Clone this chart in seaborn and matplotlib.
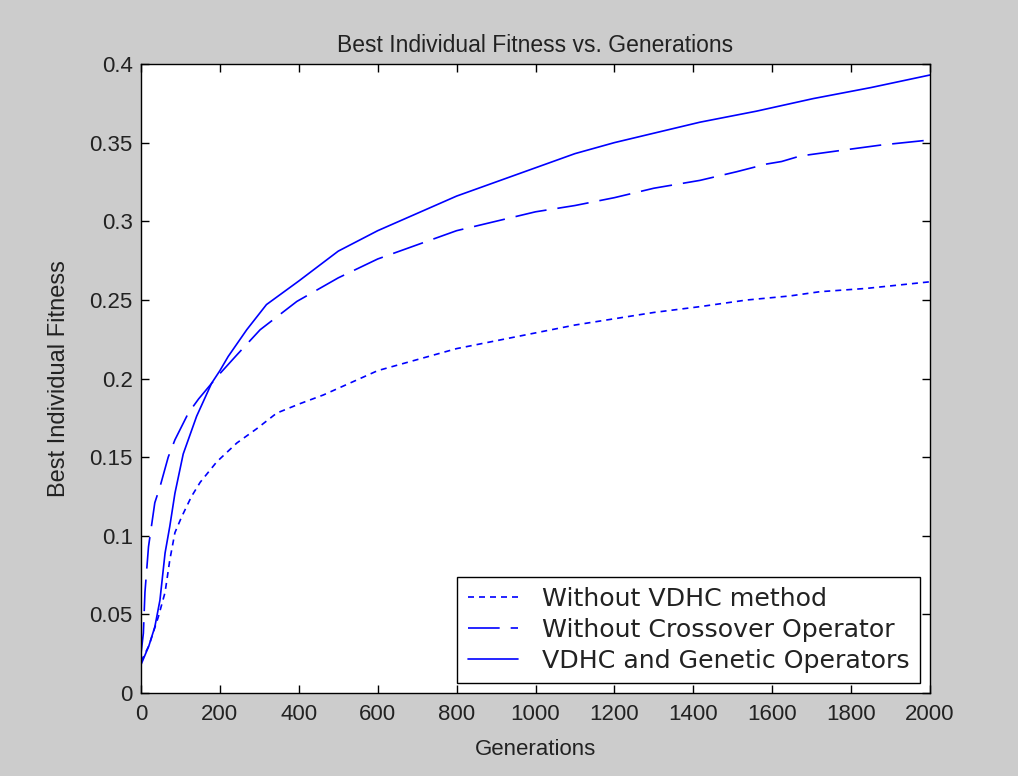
import matplotlib
matplotlib.use("Agg")
import matplotlib.pyplot as plt
import seaborn as sns
import pandas as pd
from matplotlib.lines import Line2D

# ---- data ----
gen_vdhc_ga = [0, 20, 35, 48, 61, 73, 86, 107, 141, 179, 200, 221, 268, 318, 400, 500, 600,
               700, 800, 900, 1000, 1100, 1200, 1300, 1417, 1560, 1704, 1850, 2000]
fit_vdhc_ga = [0.018, 0.03, 0.042, 0.059, 0.089, 0.106, 0.127, 0.152, 0.176, 0.197, 0.205,
               0.214, 0.231, 0.247, 0.262, 0.281, 0.294, 0.305, 0.316, 0.325, 0.334, 0.343,
               0.350, 0.356, 0.363, 0.370, 0.378, 0.385, 0.393]

gen_no_cross = [0, 6, 10, 19, 35, 48, 69, 86, 120, 146, 196, 243, 302, 395, 500, 600, 700,
                800, 900, 1000, 1100, 1200, 1300, 1417, 1510, 1586, 1624, 1671, 1773, 1877, 2000]
fit_no_cross = [0.025, 0.038, 0.064, 0.093, 0.121, 0.131, 0.150, 0.161, 0.178, 0.187, 0.202,
                0.215, 0.231, 0.249, 0.264, 0.276, 0.285, 0.294, 0.300, 0.306, 0.310, 0.315,
                0.321, 0.326, 0.3315, 0.3364, 0.338, 0.3415, 0.345, 0.3485, 0.3517]

gen_no_vdhc = [0, 20, 44, 61, 73, 86, 103, 128, 150, 192, 243, 293, 344, 403, 462, 600, 700,
               800, 900, 1000, 1100, 1200, 1300, 1417, 1535, 1645, 1721, 1839, 2000]
fit_no_vdhc = [0.02, 0.03, 0.0485, 0.064, 0.0846, 0.102, 0.112, 0.125, 0.134, 0.147, 0.159,
               0.168, 0.178, 0.184, 0.1895, 0.205, 0.212, 0.219, 0.224, 0.229, 0.234, 0.238,
               0.242, 0.2457, 0.2499, 0.2525, 0.2552, 0.2573, 0.2615]

labels = ["Without VDHC method", "Without Crossover Operator", "VDHC and Genetic Operators"]
xticks = [0, 200, 400, 600, 800, 1000, 1200, 1400, 1600, 1800, 2000]
yticks = [0, 0.05, 0.1, 0.15, 0.2, 0.25, 0.3, 0.35, 0.4]
ytick_labels = ["0", "0.05", "0.1", "0.15", "0.2", "0.25", "0.3", "0.35", "0.4"]

# ---- style ----
sns.set_style("ticks")
plt.rcParams["font.family"] = ["Liberation Sans", "DejaVu Sans"]
plt.rcParams["xtick.direction"] = "in"
plt.rcParams["ytick.direction"] = "in"
txt = "#222222"

fig = plt.figure(figsize=(10.18, 7.76), dpi=100, facecolor="#cccccc")
ax = fig.add_axes([141 / 1018, 1 - 693 / 776, (930 - 141) / 1018, (693 - 64) / 776])
ax.set_facecolor("white")

blue = "#0000ff"
lw = 1.2
series = [
    (gen_no_vdhc, fit_no_vdhc, labels[0], (0, (3.6, 3.0))),
    (gen_no_cross, fit_no_cross, labels[1], (0, (19, 6.6))),
    (gen_vdhc_ga, fit_vdhc_ga, labels[2], "-"),
]
handles = []
for g, f, lab, ls in series:
    df = pd.DataFrame({"gen": g, "fit": f})
    sns.lineplot(data=df, x="gen", y="fit", ax=ax, color=blue, linewidth=lw,
                 linestyle=ls, estimator=None, sort=False)
    handles.append(Line2D([], [], color=blue, linewidth=lw, linestyle=ls, label=lab))

ax.set_xlim(0, 2000)
ax.set_ylim(0, 0.4)
ax.set_xticks(xticks)
ax.set_xticklabels([str(t) for t in xticks])
ax.set_yticks(yticks)
ax.set_yticklabels(ytick_labels)
ax.tick_params(axis="both", which="both", direction="in", length=6, width=1,
               labelsize=16, colors="black", labelcolor=txt, top=True, right=True)
ax.tick_params(axis="y", pad=6)
ax.tick_params(axis="x", pad=8)
for s in ax.spines.values():
    s.set_visible(True)
    s.set_color("black")
    s.set_linewidth(1)

ax.set_title("Best Individual Fitness vs. Generations", fontsize=16.5, pad=9, color=txt)
ax.set_xlabel("Generations", fontsize=16, labelpad=10, color=txt)
ax.set_ylabel("Best Individual Fitness", fontsize=17, labelpad=14, color=txt)

leg = ax.legend(handles=handles, loc="lower right", frameon=True,
                prop={"family": "DejaVu Sans", "size": 18.2},
                fancybox=False, edgecolor="black", framealpha=1, handlelength=2.0,
                borderaxespad=0.4, labelspacing=0.28, handletextpad=0.95, borderpad=0.4)
leg.get_frame().set_linewidth(1)
for t in leg.get_texts():
    t.set_color(txt)

fig.savefig("out.png", dpi=100, facecolor=fig.get_facecolor())
